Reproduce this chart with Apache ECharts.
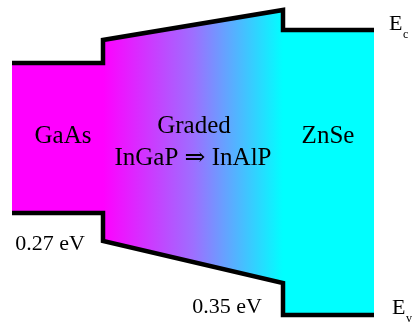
<!DOCTYPE html>
<html>
<head>
<meta charset="utf-8">
<script src="https://cdn.jsdelivr.net/npm/echarts@6/dist/echarts.min.js"></script>
<style>
  html, body { margin: 0; padding: 0; background: #fff; }
  #band { width: 414px; height: 324px; }
</style>
</head>
<body>
<div id="band"></div>
<script>
// 各层材料
const layers = ['GaAs', 'Graded', 'ZnSe']
// 各层起止位置 (任意单位)
const layerStart = [12, 103, 283]
const layerEnd = [103, 283, 374]
// 导带 Ec (eV)，左端 / 右端
const ecLeft = [2.61, 2.84, 2.94]
const ecRight = [2.61, 3.14, 2.94]
// 价带 Ev (eV)，左端 / 右端
const evLeft = [1.11, 0.83, 0.09]
const evRight = [1.11, 0.41, 0.09]
// 价带偏移
const offsetLabels = ['0.27 eV', '0.35 eV']

function bandLine(left, right) {
    const res = []
    for (let i = 0; i < layers.length; i++) {
        res.push([layerStart[i], left[i]])
        res.push([layerEnd[i], right[i]])
    }
    return res
}

const chart = echarts.init(document.getElementById('band'))
const serif = '"Liberation Serif", "DejaVu Serif", serif'
const fills = [
    '#ff00ff',
    new echarts.graphic.LinearGradient(0, 0, 1, 0, [
        { offset: 0, color: '#ff00ff' },
        { offset: 0.5, color: '#9e6eff' },
        { offset: 1, color: '#00ffff' }
    ]),
    '#00ffff'
]

const option = {
    animation: false,
    backgroundColor: '#fff',
    grid: { left: 0, right: 0, top: 0, bottom: 0 },
    xAxis: { type: 'value', min: 0, max: 414, show: false },
    yAxis: { type: 'value', min: 0, max: 3.24, show: false },
    series: [
        {
            type: 'custom',
            z: 1,
            data: layers.map(function (name, i) { return [i] }),
            renderItem: function (params, api) {
                const i = api.value(0)
                const pts = [
                    api.coord([layerStart[i], ecLeft[i]]),
                    api.coord([layerEnd[i], ecRight[i]]),
                    api.coord([layerEnd[i], evRight[i]]),
                    api.coord([layerStart[i], evLeft[i]])
                ]
                return {
                    type: 'polygon',
                    shape: { points: pts },
                    style: { fill: fills[i] }
                }
            }
        },
        {
            name: 'Ec',
            type: 'line',
            z: 3,
            symbol: 'none',
            data: bandLine(ecLeft, ecRight),
            lineStyle: { color: '#000', width: 4.5, join: 'miter', cap: 'butt' }
        },
        {
            name: 'Ev',
            type: 'line',
            z: 3,
            symbol: 'none',
            data: bandLine(evLeft, evRight),
            lineStyle: { color: '#000', width: 4.5, join: 'miter', cap: 'butt' }
        }
    ],
    graphic: [
        { type: 'text', x: 63, y: 136, z: 10, style: { text: layers[0], font: '25px ' + serif, fill: '#000', align: 'center', verticalAlign: 'middle' } },
        { type: 'text', x: 194, y: 126, z: 10, style: { text: layers[1], font: '25px ' + serif, fill: '#000', align: 'center', verticalAlign: 'middle' } },
        { type: 'text', x: 193, y: 158, z: 10, style: { text: 'InGaP \u21D2 InAlP', font: '25px ' + serif, fill: '#000', align: 'center', verticalAlign: 'middle' } },
        { type: 'text', x: 328, y: 136, z: 10, style: { text: layers[2], font: '25px ' + serif, fill: '#000', align: 'center', verticalAlign: 'middle' } },
        { type: 'text', x: 50, y: 244, z: 10, style: { text: offsetLabels[0], font: '22px ' + serif, fill: '#000', align: 'center', verticalAlign: 'middle' } },
        { type: 'text', x: 227, y: 307, z: 10, style: { text: offsetLabels[1], font: '22px ' + serif, fill: '#000', align: 'center', verticalAlign: 'middle' } },
        { type: 'text', x: 389, y: 24, z: 10, style: { text: 'E', font: '22px ' + serif, fill: '#000', align: 'left', verticalAlign: 'middle' } },
        { type: 'text', x: 403, y: 35, z: 10, style: { text: 'c', font: '12px ' + serif, fill: '#000', align: 'left', verticalAlign: 'middle' } },
        { type: 'text', x: 392, y: 308, z: 10, style: { text: 'E', font: '22px ' + serif, fill: '#000', align: 'left', verticalAlign: 'middle' } },
        { type: 'text', x: 406, y: 319, z: 10, style: { text: 'v', font: '12px ' + serif, fill: '#000', align: 'left', verticalAlign: 'middle' } }
    ]
}
chart.setOption(option)
</script>
</body>
</html>
